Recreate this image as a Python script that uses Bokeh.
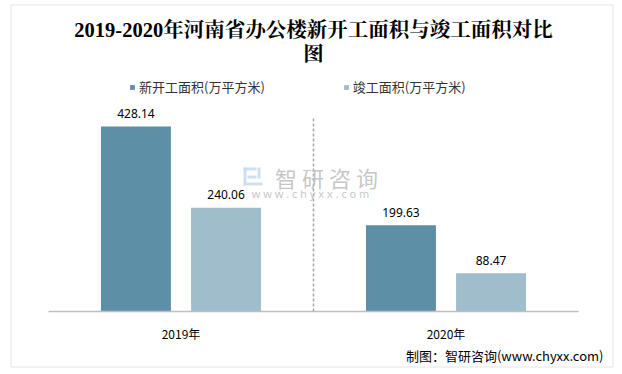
from bokeh.plotting import figure
from bokeh.models import ColumnDataSource, FactorRange, Range1d, Label, Legend, LegendItem, BoxAnnotation
from bokeh.transform import dodge
from bokeh.core.properties import value
from bokeh.embed import file_html
from bokeh.resources import INLINE

years = ["2019年", "2020年"]
new_start = [428.14, 199.63]
completed = [240.06, 88.47]
series_names = ["新开工面积(万平方米)", "竣工面积(万平方米)"]
title_lines = ["2019-2020年河南省办公楼新开工面积与竣工面积对比", "图"]
source_note = "制图：智研咨询(www.chyxx.com)"

C1 = "#5D8FA7"
C2 = "#9FBDCA"
CJK = "Noto Sans CJK SC"

src = ColumnDataSource(dict(
    year=years, new=new_start, comp=completed,
    new_lbl=[f"{v:.2f}" for v in new_start],
    comp_lbl=[f"{v:.2f}" for v in completed],
    zero=[0] * len(years),
))
sep_src = ColumnDataSource(dict(year=years[:-1], y0=[0] * (len(years) - 1), y1=[449] * (len(years) - 1)))

W, H = 614, 368
p = figure(x_range=FactorRange(factors=years, range_padding=42 / 265, range_padding_units="absolute"),
           y_range=Range1d(-131.9, 719.9),
           width=W, height=H,
           output_backend="svg", toolbar_location=None,
           min_border=0)
p.xaxis.visible = False
p.yaxis.visible = False
p.xgrid.visible = False
p.ygrid.visible = False
p.outline_line_color = None

s = 6 / 265     # small horizontal shift of the whole category area
off = 0.17
bw = 0.264

def X(o):
    return dodge("year", o + s, range=p.x_range)

r1 = p.vbar(x=X(-off), top="new", width=bw, source=src, fill_color=C1, line_color=None)
r2 = p.vbar(x=X(off), top="comp", width=bw, source=src, fill_color=C2, line_color=None)

# category axis line
p.segment(x0=X(-0.5), x1=X(0.5), y0="zero", y1="zero", source=src,
          line_color="#BFBFBF", line_width=1.5)
# category labels
p.text(x=X(0), y="zero", text="year", source=src, text_align="center", text_baseline="middle",
       y_offset=22, text_font_size="12px", text_font=value(CJK), text_color="#000000")

# dashed separator between categories
p.segment(x0=X(0.5), x1=X(0.5), y0="y0", y1="y1", source=sep_src,
          line_color="#A6A6A6", line_dash="3 2", line_width=1.5)

for xo, col in ((-off, "new"), (off, "comp")):
    p.text(x=X(xo), y=col, text=col + "_lbl", source=src,
           text_align="center", text_baseline="middle", y_offset=-13,
           text_font_size="12px", text_font=value("Noto Sans"), text_color="#000000")

# outer border
p.add_layout(BoxAnnotation(left=10.5, right=612.5, bottom=1.5, top=363.5,
                           left_units="screen", right_units="screen",
                           bottom_units="screen", top_units="screen",
                           fill_alpha=0, line_color="#A6A6A6", line_width=1))

# title
for i, t in enumerate(title_lines):
    p.add_layout(Label(x=313, y=339 - 24 * i, x_units="screen", y_units="screen",
                       text=t, text_align="center", text_baseline="middle",
                       text_font="Liberation Serif, Noto Serif CJK SC, Noto Sans CJK SC",
                       text_font_style="bold", text_font_size="20.5px", text_color="#000000"))

legend = Legend(items=[LegendItem(label=series_names[0], renderers=[r1]),
                       LegendItem(label=series_names[1], renderers=[r2])],
                location=(129, 272), orientation="horizontal",
                glyph_width=6, glyph_height=6, label_standoff=4, spacing=78,
                padding=0, margin=0, border_line_color=None, background_fill_alpha=0,
                label_text_font_size="13px", label_text_color="#333333",
                label_text_font=CJK, label_height=18)
p.add_layout(legend)

# watermark (logo + text)
logo = "#C9DDEE"
for l, r, t, b in ((243, 256, 167, 170), (243, 246, 167, 185), (243, 262, 182, 185),
                   (247, 256, 175, 178), (257, 260, 167, 178)):
    p.add_layout(BoxAnnotation(left=l, right=r, top=H - t, bottom=H - b,
                               left_units="screen", right_units="screen",
                               bottom_units="screen", top_units="screen",
                               fill_color=logo, fill_alpha=0.9, line_color=None))
p.add_layout(Label(x=326, y=192, x_units="screen", y_units="screen", text="智 研 咨 询",
                   text_align="center", text_baseline="middle", text_font=CJK,
                   text_font_size="22px", text_color="#BFBFBF", text_alpha=0.9))
p.add_layout(Label(x=310, y=175, x_units="screen", y_units="screen",
                   text="w w w . c h y x x . c o m",
                   text_align="center", text_baseline="middle", text_font="Noto Sans",
                   text_font_size="11px", text_color="#BFBFBF", text_alpha=0.9))

# source note
p.add_layout(Label(x=603, y=13, x_units="screen", y_units="screen", text=source_note,
                   text_align="right", text_baseline="middle", text_font=CJK,
                   text_font_size="13px", text_color="#000000"))

open("out.html", "w").write(file_html(p, INLINE))
